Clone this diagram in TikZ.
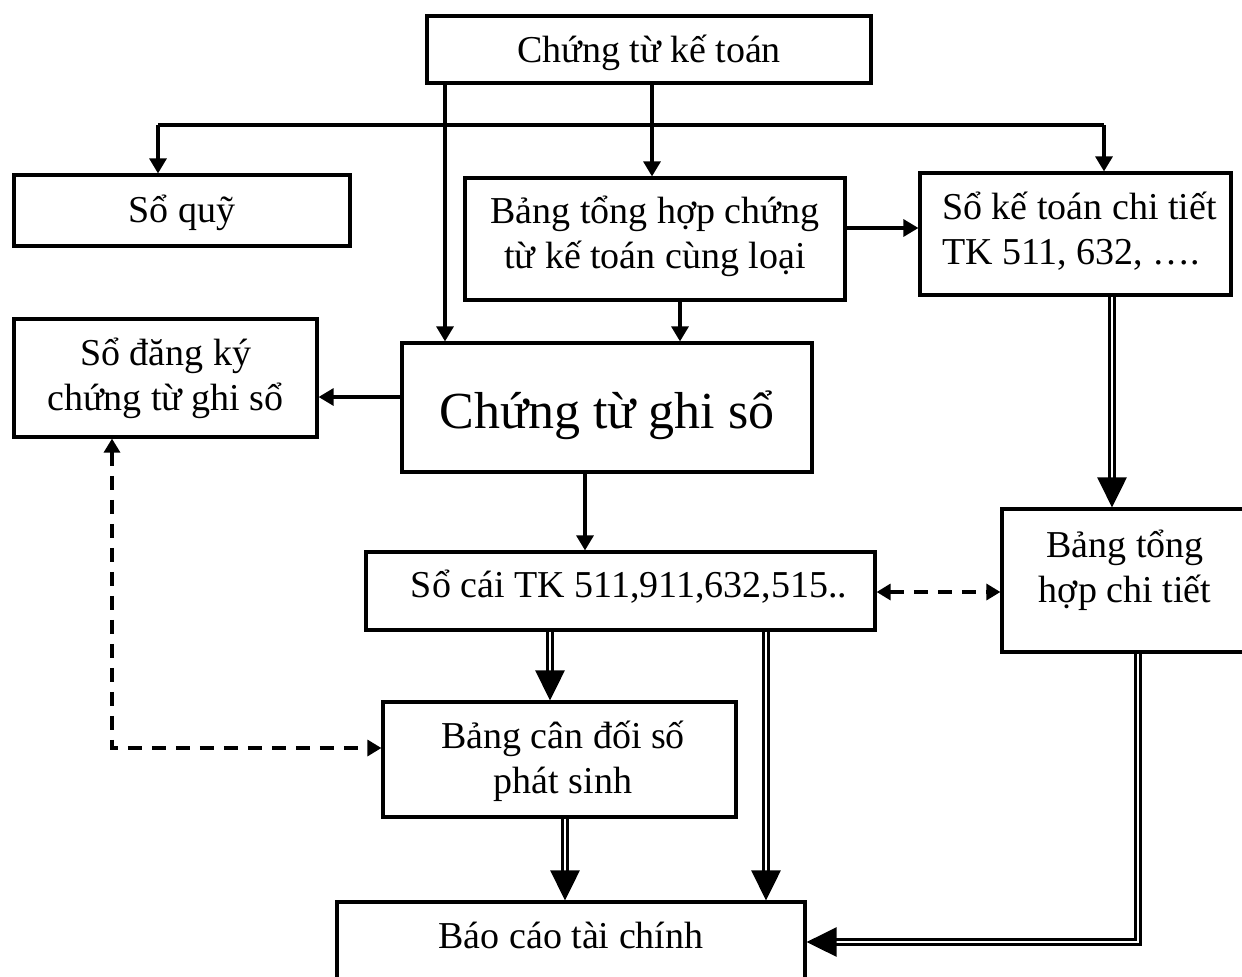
\documentclass[tikz,border=0pt]{standalone}
\usepackage{fontspec}
\setmainfont{Liberation Serif}
\usetikzlibrary{arrows.meta}
\begin{document}
\begin{tikzpicture}[x=1pt,y=-1pt,
  box/.style={draw, line width=3.2pt, rectangle, inner sep=0pt},
  txt/.style={inner sep=0pt, font=\fontsize{38}{45}\selectfont, align=center, anchor=base},
  bigtxt/.style={inner sep=0pt, font=\fontsize{52}{60}\selectfont, anchor=base},
  plain/.style={line width=3.2pt},
  arr/.style={line width=3.2pt, -{Triangle[length=15pt,width=17pt]}},
  dbl/.style={line width=3pt, double=white, double distance=2.5pt,
              -{Triangle[length=30pt,width=29pt]}},
  dsh/.style={line width=3.2pt, dash pattern=on 14pt off 10pt,
              {Triangle[length=14pt,width=16pt]}-{Triangle[length=14pt,width=16pt]}}]
\useasboundingbox (0,0) rectangle (1242,977);
\clip (0,0) rectangle (1242,977);

% boxes
\node[box, minimum width=444pt, minimum height=67pt]  (ctkt)  at (649,49.5)   {};
\node[box, minimum width=336pt, minimum height=71pt]  (squy)  at (182,210.5)  {};
\node[box, minimum width=380pt, minimum height=122pt] (bth)   at (655,239)    {};
\node[box, minimum width=311pt, minimum height=122pt] (sktct) at (1075.5,234) {};
\node[box, minimum width=303pt, minimum height=118pt] (sdk)   at (165.5,378)  {};
\node[box, minimum width=410pt, minimum height=129pt] (ctgs)  at (607,407.5)  {};
\node[box, minimum width=509pt, minimum height=78pt]  (socai) at (620.5,591)  {};
\node[box, minimum width=250pt, minimum height=143pt] (bthct) at (1127,580.5) {};
\node[box, minimum width=353pt, minimum height=115pt] (bcd)   at (559.5,759.5){};
\node[box, minimum width=468pt, minimum height=108pt] (bctc)  at (571,956)    {};

% labels (multi-line labels sit on the baseline of their last line)
\node[txt] (ctkt-t)  at (649,62)   {Chứng từ kế toán};
\node[txt] (squy-t)  at (182,222)  {Sổ quỹ};
\node[txt] (bth-t)   at (655,268)  {Bảng tổng hợp chứng\\từ kế toán cùng loại};
\node[txt, align=left, anchor=base west] (sktct-t) at (942,264) {Sổ kế toán chi tiết\\TK 511, 632, ….};
\node[txt] (sdk-t)   at (165.5,410){Sổ đăng ký\\chứng từ ghi sổ};
\node[bigtxt] (ctgs-t) at (607,428) {Chứng từ ghi sổ};
\node[txt] (socai-t) at (629,597)  {Sổ cái TK 511,911,632,515..};
\node[txt] (bthct-t) at (1125,602) {Bảng tổng\\hợp chi tiết};
\node[txt] (bcd-t)   at (563,793)  {Bảng cân đối số\\phát sinh};
\node[txt] (bctc-t)  at (571,948)  {Báo cáo tài chính};

% routing points
\coordinate (busL) at (158,125);
\coordinate (busR) at (1104,125);
\coordinate (xA) at (652,0);
\coordinate (xB) at (445,0);
\coordinate (yC) at (0,228);
\coordinate (xD) at (680,0);
\coordinate (yE) at (0,397);
\coordinate (xF) at (585,0);
\coordinate (xG) at (1112,0);
\coordinate (yH) at (0,592);
\coordinate (xI) at (112,0);
\coordinate (yJ) at (0,748);
\coordinate (xK) at (550,0);
\coordinate (xL) at (565,0);
\coordinate (xM) at (766,0);
\coordinate (xN) at (1138,0);
\coordinate (yO) at (0,942);

% connectors
\draw[plain] (busL) -- (busR);
\draw[arr] (busL) -- (busL |- squy.north);
\draw[arr] (busR) -- (busR |- sktct.north);
\draw[arr] (ctkt.south -| xA) -- (bth.north -| xA);
\draw[arr] (ctkt.south -| xB) -- (ctgs.north -| xB);
\draw[arr] (bth.east |- yC) -- (sktct.west |- yC);
\draw[arr] (bth.south -| xD) -- (ctgs.north -| xD);
\draw[arr] (ctgs.west |- yE) -- (sdk.east |- yE);
\draw[arr] (ctgs.south -| xF) -- (socai.north -| xF);
\draw[dbl] (sktct.south -| xG) -- (bthct.north -| xG);
\draw[dsh] (socai.east |- yH) -- (bthct.west |- yH);
\draw[dsh] (sdk.south -| xI) |- (bcd.west |- yJ);
\draw[dbl] (socai.south -| xK) -- (bcd.north -| xK);
\draw[dbl] (bcd.south -| xL) -- (bctc.north -| xL);
\draw[dbl] (socai.south -| xM) -- (bctc.north -| xM);
\draw[dbl] (bthct.south -| xN) |- (bctc.east |- yO);
\end{tikzpicture}
\end{document}
